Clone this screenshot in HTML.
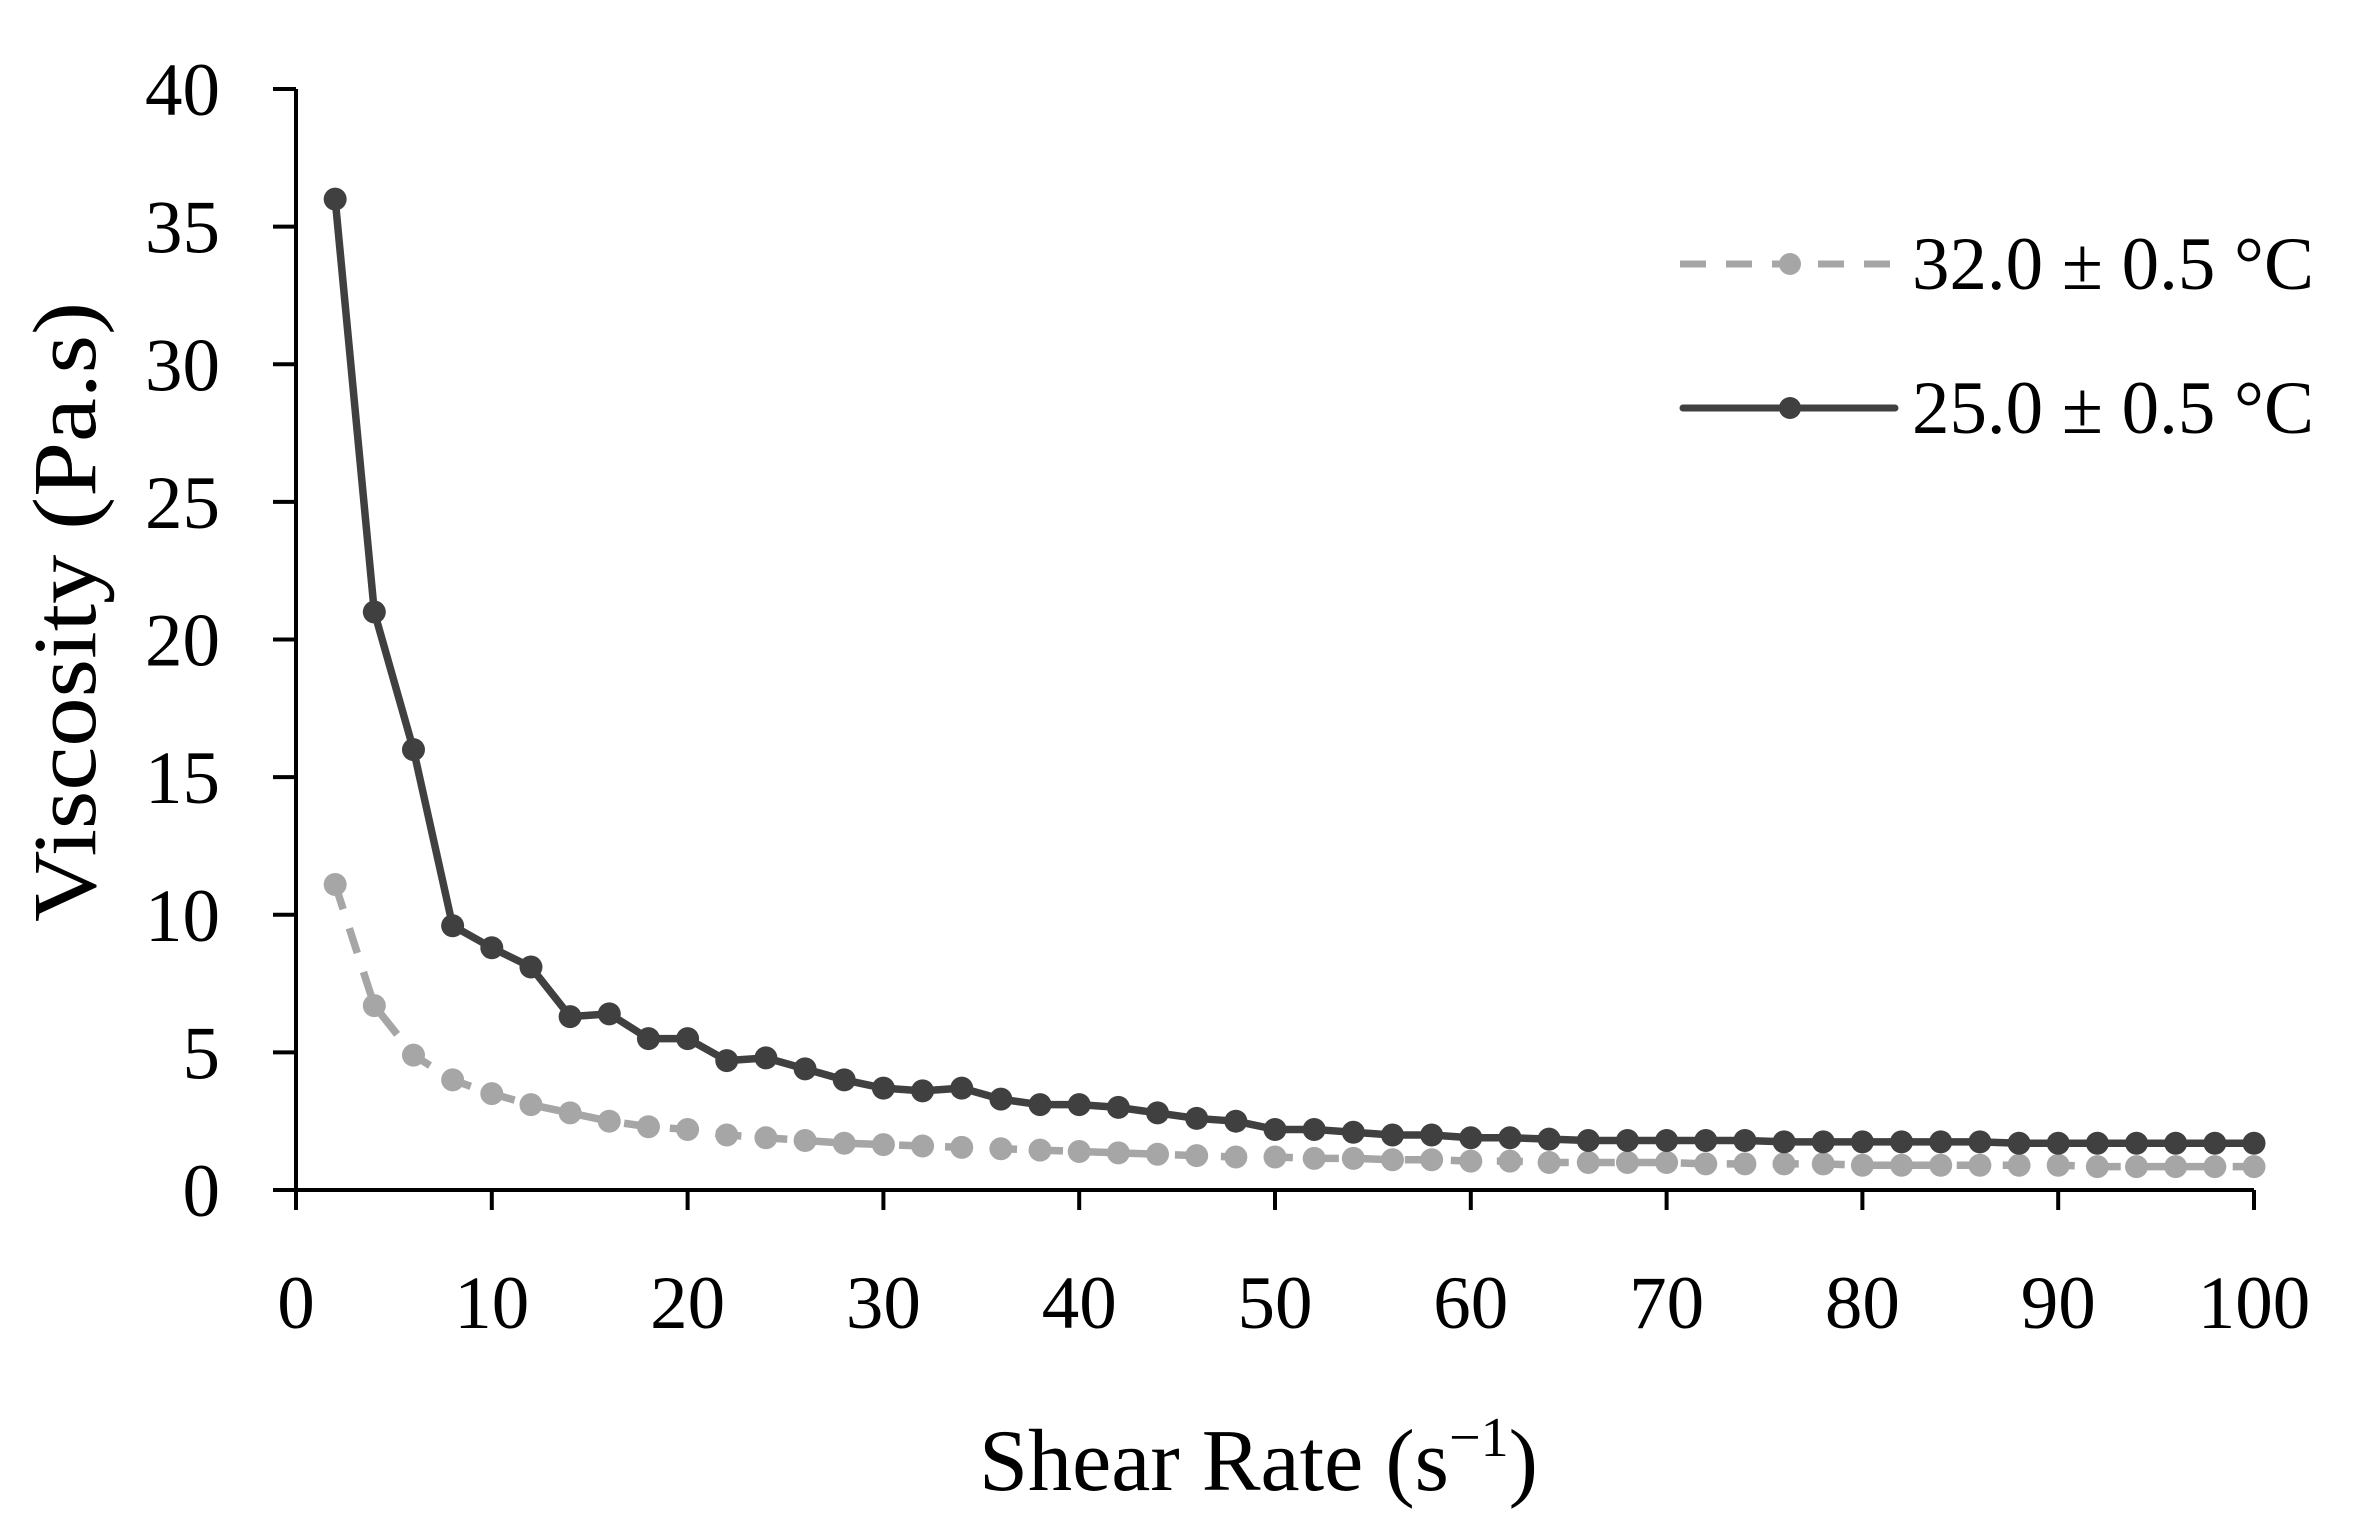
<!DOCTYPE html>
<html><head><meta charset="utf-8"><style>
html,body{margin:0;padding:0;background:#fff;}
svg{display:block;font-family:"Liberation Serif",serif;}
</style></head><body>
<svg id="chart" width="2355" height="1524" viewBox="0 0 2355 1524" xmlns="http://www.w3.org/2000/svg">
<g id="axes"></g>
<g id="series"></g>
<text transform="translate(95,612) rotate(-90)" text-anchor="middle" font-size="90" textLength="620" lengthAdjust="spacingAndGlyphs" fill="#000">Viscosity (Pa.s)</text>
<text x="979" y="1490" font-size="88" fill="#000"><tspan textLength="470" lengthAdjust="spacingAndGlyphs">Shear Rate (s</tspan><tspan font-size="56" dy="-34">−1</tspan><tspan dy="34">)</tspan></text>
<g>
<g>
<line x1="1680" y1="264" x2="1892" y2="264" stroke="#a6a6a6" stroke-width="7" stroke-dasharray="26,20"/>
<circle cx="1790" cy="264" r="11" fill="#a6a6a6"/>
<text x="1912" y="289" font-size="75" textLength="402" lengthAdjust="spacingAndGlyphs" fill="#000">32.0 ± 0.5 °C</text>
</g>
<g>
<line x1="1683" y1="408" x2="1895" y2="408" stroke="#404040" stroke-width="7" stroke-linecap="round"/>
<circle cx="1790" cy="408" r="11" fill="#404040"/>
<text x="1912" y="433" font-size="75" textLength="402" lengthAdjust="spacingAndGlyphs" fill="#000">25.0 ± 0.5 °C</text>
</g>
</g>
</svg>
<script>
const shearRates = [2,4,6,8,10,12,14,16,18,20,22,24,26,28,30,32,34,36,38,40,42,44,46,48,50,52,54,56,58,60,62,64,66,68,70,72,74,76,78,80,82,84,86,88,90,92,94,96,98,100];
const visc25 = [36,21,16,9.6,8.8,8.1,6.3,6.4,5.5,5.5,4.7,4.8,4.4,4.0,3.7,3.6,3.7,3.3,3.1,3.1,3.0,2.8,2.6,2.5,2.2,2.2,2.1,2.0,2.0,1.9,1.9,1.85,1.8,1.8,1.8,1.8,1.8,1.75,1.75,1.75,1.75,1.75,1.75,1.7,1.7,1.7,1.7,1.7,1.7,1.7];
const visc32 = [11.1,6.7,4.9,4.0,3.5,3.1,2.8,2.5,2.3,2.2,2.0,1.9,1.8,1.7,1.65,1.6,1.55,1.5,1.45,1.4,1.35,1.3,1.25,1.2,1.2,1.15,1.15,1.1,1.1,1.05,1.05,1.0,1.0,1.0,1.0,0.95,0.95,0.95,0.95,0.9,0.9,0.9,0.9,0.9,0.9,0.85,0.85,0.85,0.85,0.85];
const xTicks = [0,10,20,30,40,50,60,70,80,90,100];
const yTicks = [0,5,10,15,20,25,30,35,40];

const NS = "http://www.w3.org/2000/svg";
const X0=296, X1=2254, Y0=1190, Y1=89;
function sx(v){return X0+(v-0)/(100-0)*(X1-X0);}
function sy(v){return Y0-(v-0)/(40-0)*(Y0-Y1);}
function mk(tag,attrs,parent){const e=document.createElementNS(NS,tag);for(const k in attrs)e.setAttribute(k,attrs[k]);parent.appendChild(e);return e;}
const axes=document.getElementById('axes');
const series=document.getElementById('series');

let yAxis=mk('line',{x1:X0,y1:Y1,x2:X0,y2:Y0,stroke:'#000','stroke-width':4},axes);


let xAxis=mk('line',{x1:X0-23,y1:Y0,x2:X1,y2:Y0,stroke:'#000','stroke-width':4},axes);



yTicks.forEach(t=>{
  const y=sy(t);
  const tk=mk('line',{x1:X0-23,y1:y,x2:X0,y2:y,stroke:'#000','stroke-width':4},axes);
  
  
  const tx=mk('text',{x:220,y:y+26,'text-anchor':'end','font-size':75,fill:'#000'},axes);
  tx.textContent=t;
  
  
});
xTicks.forEach(t=>{
  const x=sx(t);
  const tk=mk('line',{x1:x,y1:Y0,x2:x,y2:Y0+20,stroke:'#000','stroke-width':4},axes);
  
  
  const tx=mk('text',{x:x,y:1328,'text-anchor':'middle','font-size':75,fill:'#000'},axes);
  tx.textContent=t;
  
  
});

function drawSeries(vals,color,dash,name){
  const g=mk('g',{},series);
  
  
  const pts=vals.map((v,i)=>sx(shearRates[i])+','+sy(v)).join(' ');
  const attrs={points:pts,fill:'none',stroke:color,'stroke-width':7.5,'stroke-linejoin':'round'};
  if(dash)attrs['stroke-dasharray']=dash;
  const pl=mk('polyline',attrs,g);
  
  
  vals.forEach((v,i)=>{
    const c=mk('circle',{cx:sx(shearRates[i]),cy:sy(v),r:11.5,fill:color},g);
    
    
  });
}
drawSeries(visc32,'#a6a6a6','26,20','series-32c');
drawSeries(visc25,'#404040',null,'series-25c');
</script>
</body></html>
